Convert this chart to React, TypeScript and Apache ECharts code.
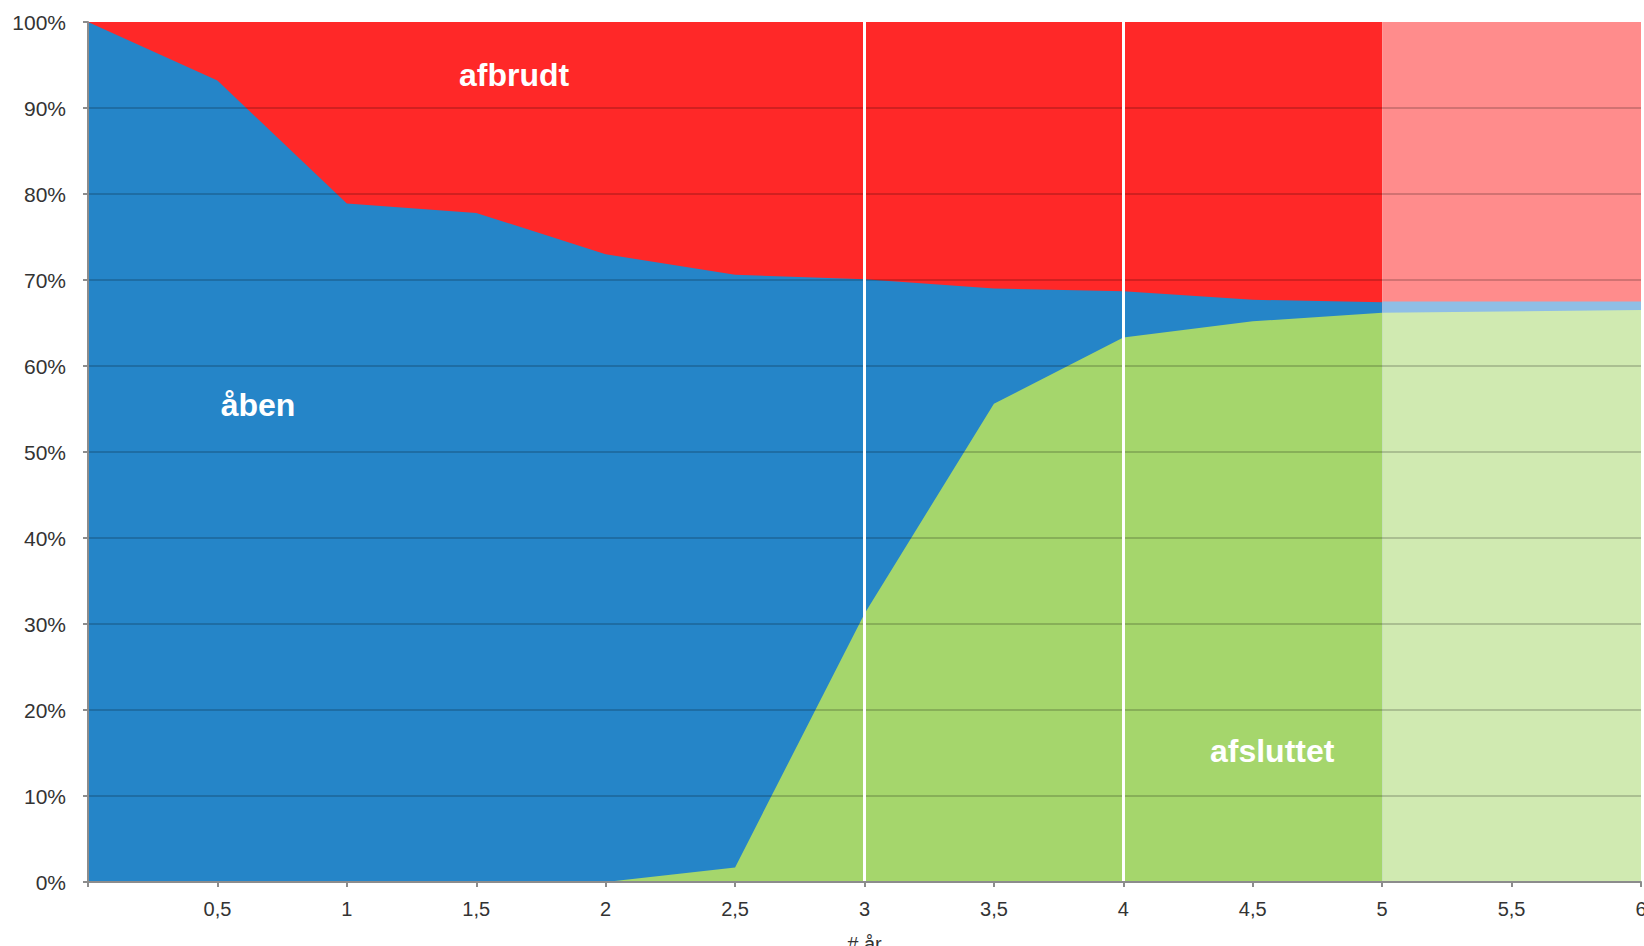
import React, { useEffect, useRef } from "react";
import * as echarts from "echarts";

const xs = [0, 0.5, 1, 1.5, 2, 2.5, 3, 3.5, 4, 4.5, 5];
const afsluttet = [0, 0, 0, 0, 0, 1.7, 31.2, 55.6, 63.3, 65.2, 66.2];
const aaben = [100, 93.2, 78.9, 77.8, 73.0, 68.9, 38.9, 13.4, 5.4, 2.5, 1.2];
const afbrudt = [0, 6.8, 21.1, 22.2, 27.0, 29.4, 29.9, 31.0, 31.3, 32.3, 32.6];

const xsProj = [5, 6];
const afsluttetProj = [66.2, 66.5];
const aabenProj = [1.3, 1.0];
const afbrudtProj = [32.5, 32.5];

const yTicks = [10, 20, 30, 40, 50, 60, 70, 80, 90];
const markerYears = [3, 4];
const areaLabels = [
  { name: "afbrudt", coord: [1.646, 93.8] },
  { name: "åben", coord: [0.657, 55.5] },
  { name: "afsluttet", coord: [4.575, 15.2] },
];

// cumulative tops (stacking done here instead of ECharts' stack)
const cum = (x: number[], ...parts: number[][]) =>
  x.map((v, i) => [v, parts.reduce((s, p) => s + p[i], 0)]);

export default function App() {
  const ref = useRef<HTMLDivElement>(null);
  useEffect(() => {
    const chart = echarts.init(ref.current!, null, { renderer: "svg" });
    const font = "'Liberation Sans', Arial, sans-serif";
    const area = (name: string, data: number[][], color: string, extra: any = {}) => ({
      name,
      type: "line",
      data,
      symbol: "none",
      showSymbol: false,
      lineStyle: { width: 0, opacity: 0 },
      areaStyle: { color, opacity: 1, origin: "start" },
      silent: true,
      ...extra,
    });
    chart.setOption({
      animation: false,
      backgroundColor: "#ffffff",
      textStyle: { fontFamily: font },
      grid: { left: 88, right: 3, top: 22, bottom: 64, containLabel: false, outerBoundsMode: "none" },
      xAxis: {
        type: "value",
        min: 0,
        max: 6,
        interval: 0.5,
        name: "# år",
        nameLocation: "middle",
        nameGap: 52,
        nameTextStyle: { fontSize: 20, color: "#333", fontFamily: font },
        axisLine: { show: true, lineStyle: { color: "#8c8c8c", width: 2 } },
        axisTick: { show: true, length: 5, lineStyle: { color: "#8c8c8c", width: 2 } },
        axisLabel: {
          fontSize: 20,
          color: "#333",
          margin: 17,
          fontFamily: font,
          formatter: (v: number) => (v === 0 ? "" : String(v).replace(".", ",")),
        },
        splitLine: { show: false },
        z: 10,
      },
      yAxis: {
        type: "value",
        min: 0,
        max: 100,
        interval: 10,
        axisLine: { show: true, lineStyle: { color: "#8c8c8c", width: 2 } },
        axisTick: { show: true, length: 5, lineStyle: { color: "#8c8c8c", width: 2 } },
        axisLabel: { fontSize: 21, color: "#333", margin: 22, fontFamily: font, formatter: "{value}%" },
        splitLine: { show: false },
        z: 10,
      },
      series: [
        area("afbrudt", cum(xs, afsluttet, aaben, afbrudt), "#ff2828"),
        area("åben", cum(xs, afsluttet, aaben), "#2585c8"),
        area("afsluttet", cum(xs, afsluttet), "#a5d66c"),
        area("afbrudt prognose", cum(xsProj, afsluttetProj, aabenProj, afbrudtProj), "#ff8c8c"),
        area("åben prognose", cum(xsProj, afsluttetProj, aabenProj), "#8fbee6"),
        area("afsluttet prognose", cum(xsProj, afsluttetProj), "#d0eab1", {
          markLine: {
            silent: true,
            symbol: ["none", "none"],
            label: { show: false },
            data: [
              ...yTicks.map((y) => ({
                yAxis: y,
                lineStyle: { color: "rgba(0,0,0,0.18)", width: 2, type: "solid" },
              })),
              ...markerYears.map((x) => ({
                xAxis: x,
                lineStyle: { color: "#ffffff", width: 3, type: "solid" },
              })),
            ],
          },
          markPoint: {
            symbol: "circle",
            symbolSize: 0,
            silent: true,
            label: {
              show: true,
              position: "inside",
              formatter: "{b}",
              color: "#ffffff",
              fontWeight: "bold",
              fontSize: 32,
              fontFamily: font,
            },
            data: areaLabels.map((l) => ({ name: l.name, coord: l.coord })),
          },
        }),
      ],
    });
    return () => chart.dispose();
  }, []);
  return (
    <div
      ref={ref}
      style={{ position: "absolute", left: 0, top: 0, width: 1644, height: 946, background: "#fff" }}
    />
  );
}
